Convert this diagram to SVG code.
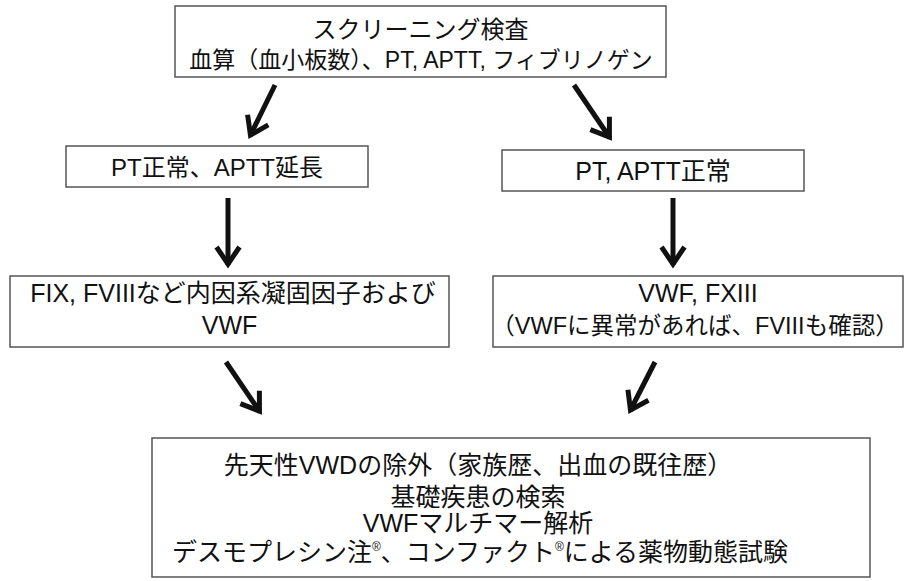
<svg xmlns="http://www.w3.org/2000/svg" width="904" height="581" viewBox="0 0 904 581">
<defs>
<style>
.box{fill:#fff;stroke:#555;stroke-width:1.5}
.t{font-family:"Liberation Sans","Noto Sans CJK JP",sans-serif;font-size:23px;fill:#111;text-anchor:middle}
.m{font-size:25px}
.sup{font-size:12px}
.arr{stroke:#111;stroke-width:5;fill:none;marker-end:url(#ah)}
</style>
<marker id="ah" markerUnits="userSpaceOnUse" viewBox="-24 -16 30 32" markerWidth="30" markerHeight="32" refX="0" refY="0" orient="auto" overflow="visible">
<path d="M-18,-11.5 L-1,0 L-18,11.5" fill="none" stroke="#111" stroke-width="5"/>
</marker>
</defs>
<rect width="904" height="581" fill="#fff"/>
<g id="screening">
<rect class="box" x="175" y="6" width="491" height="71"/>
<text class="t" x="420.5" y="38" style="font-size:24px">スクリーニング検査</text>
<text class="t" x="421" y="68">血算（血小板数）、PT, APTT, フィブリノゲン</text>
</g>
<g id="pt-normal-aptt-long">
<rect class="box" x="66" y="146" width="302" height="41"/>
<text class="t" x="217" y="176" style="font-size:24px">PT正常、APTT延長</text>
</g>
<g id="pt-aptt-normal">
<rect class="box" x="502" y="150" width="302" height="41"/>
<text class="t m" x="653" y="180">PT, APTT正常</text>
</g>
<g id="intrinsic">
<rect class="box" x="10" y="276" width="439" height="71"/>
<text class="t m" x="233" y="302">FIX, FVIIIなど内因系凝固因子および</text>
<text class="t m" x="229.5" y="334">VWF</text>
</g>
<g id="vwf-fxiii">
<rect class="box" x="493" y="276" width="410" height="71"/>
<text class="t m" x="698" y="302">VWF, FXIII</text>
<text class="t" x="695" y="334" style="font-size:23.5px">（VWFに異常があれば、FVIIIも確認）</text>
</g>
<g id="final">
<rect class="box" x="152" y="438" width="718" height="139"/>
<text class="t m" x="478" y="474">先天性VWDの除外（家族歴、出血の既往歴）</text>
<text class="t m" x="478" y="506">基礎疾患の検索</text>
<text class="t m" x="478" y="532">VWFマルチマー解析</text>
<text class="t m" x="480" y="561">デスモプレシン注<tspan class="sup" dy="-10">®</tspan><tspan dy="10">、コンファクト</tspan><tspan class="sup" dy="-10">®</tspan><tspan dy="10">による薬物動態試験</tspan></text>
</g>
<g id="connectors">
<line class="arr" x1="275" y1="85" x2="250" y2="136"/>
<line class="arr" x1="574" y1="85" x2="610" y2="138"/>
<line class="arr" x1="228" y1="198" x2="228" y2="265"/>
<line class="arr" x1="673" y1="198" x2="673" y2="265"/>
<line class="arr" x1="226" y1="362" x2="260" y2="412"/>
<line class="arr" x1="655" y1="362" x2="630" y2="411"/>
</g>
</svg>
